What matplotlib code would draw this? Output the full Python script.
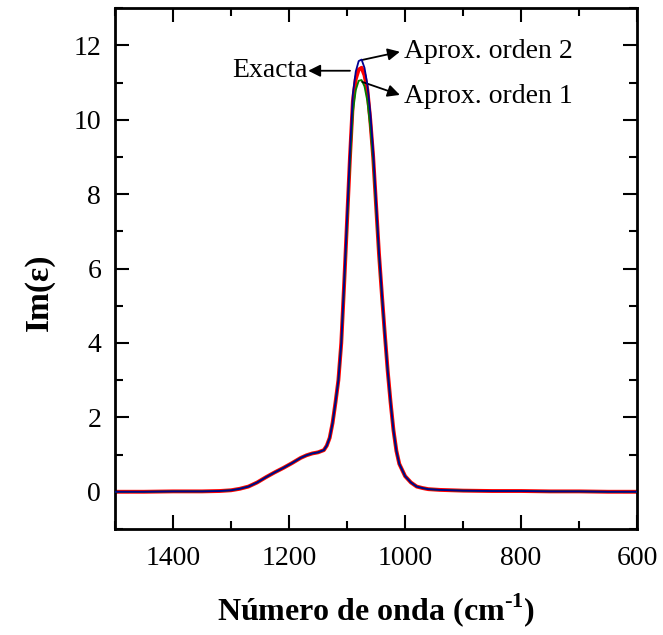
import matplotlib
matplotlib.use('Agg')
import matplotlib.pyplot as plt
from matplotlib.ticker import MultipleLocator

plt.rcParams['font.family'] = ['Liberation Serif', 'DejaVu Serif']
plt.rcParams['mathtext.fontset'] = 'custom'
plt.rcParams['mathtext.rm'] = 'Liberation Serif'
plt.rcParams['mathtext.bf'] = 'Liberation Serif:bold'

# Numero de onda (cm^-1)
numero_onda = [1500, 1450, 1400, 1350, 1320, 1300, 1285, 1270, 1255, 1240,
               1225, 1210, 1195, 1180, 1170, 1160, 1150, 1140, 1135, 1130,
               1125, 1120, 1115, 1110, 1105, 1100, 1095, 1090, 1085, 1080,
               1075, 1070, 1065, 1060, 1055, 1050, 1045, 1040, 1035, 1030,
               1025, 1020, 1015, 1010, 1000, 990, 980, 970, 960, 940,
               920, 900, 850, 800, 750, 700, 650, 600]

# Im(eps) exacta
im_exacta = [0.0, 0.0, 0.01, 0.01, 0.02, 0.04, 0.08, 0.14, 0.25, 0.39,
             0.52, 0.64, 0.77, 0.91, 0.98, 1.03, 1.06, 1.12, 1.24, 1.45,
             1.85, 2.4, 3.0, 4.0, 5.6, 7.3, 9.0, 10.5, 11.1, 11.35,
             11.4, 11.2, 10.8, 10.0, 9.0, 7.7, 6.4, 5.3, 4.25, 3.25,
             2.4, 1.65, 1.1, 0.75, 0.42, 0.25, 0.14, 0.1, 0.07, 0.05,
             0.04, 0.03, 0.02, 0.02, 0.01, 0.01, 0.0, 0.0]

# Aproximacion de orden 1
im_orden1 = [0.0, 0.0, 0.01, 0.01, 0.02, 0.04, 0.08, 0.14, 0.25, 0.39,
             0.52, 0.64, 0.77, 0.91, 0.98, 1.03, 1.06, 1.12, 1.24, 1.45,
             1.85, 2.4, 3.0, 4.0, 5.55, 7.2, 8.85, 10.2, 10.8, 11.05,
             11.07, 10.9, 10.5, 9.8, 8.9, 7.6, 6.35, 5.25, 4.25, 3.25,
             2.4, 1.65, 1.1, 0.75, 0.42, 0.25, 0.14, 0.1, 0.07, 0.05,
             0.04, 0.03, 0.02, 0.02, 0.01, 0.01, 0.0, 0.0]

# Aproximacion de orden 2
im_orden2 = [0.0, 0.0, 0.01, 0.01, 0.02, 0.04, 0.08, 0.14, 0.25, 0.39,
             0.52, 0.64, 0.77, 0.91, 0.98, 1.03, 1.06, 1.12, 1.24, 1.45,
             1.85, 2.4, 3.0, 4.0, 5.65, 7.4, 9.15, 10.7, 11.3, 11.58,
             11.62, 11.4, 10.95, 10.2, 9.15, 7.8, 6.45, 5.35, 4.25, 3.25,
             2.4, 1.65, 1.1, 0.75, 0.42, 0.25, 0.14, 0.1, 0.07, 0.05,
             0.04, 0.03, 0.02, 0.02, 0.01, 0.01, 0.0, 0.0]

fig = plt.figure(figsize=(6.63, 6.35), dpi=100)
ax = fig.add_axes([0.1735, 0.167, 0.7875, 0.820])

ax.plot(numero_onda, im_exacta, color='#ff0000', lw=2.8, zorder=2)
ax.plot(numero_onda, im_orden1, color='#008000', lw=1.3, zorder=3)
ax.plot(numero_onda, im_orden2, color='#000090', lw=1.3, zorder=4)

ax.set_xlim(1500, 600)
ax.set_ylim(-1, 13)
ax.xaxis.set_major_locator(MultipleLocator(200))
ax.xaxis.set_minor_locator(MultipleLocator(100))
ax.yaxis.set_major_locator(MultipleLocator(2))
ax.yaxis.set_minor_locator(MultipleLocator(1))

ax.tick_params(which='both', direction='in', top=True, right=True, width=1.5,
               labelsize=20)
ax.tick_params(which='major', length=10)
ax.tick_params(axis='x', which='major', pad=12)
ax.tick_params(axis='y', which='major', pad=10)
ax.tick_params(which='minor', length=5.5)
for s in ax.spines.values():
    s.set_linewidth(2)

ax.set_xlabel(r'Número de onda (cm$^{\mathbf{\text{-}1}}$)', fontsize=23,
              fontweight='bold')
ax.set_ylabel('Im(ε)', fontsize=24, fontweight='bold')
ax.xaxis.set_label_coords(0.5, -0.12)
ax.yaxis.set_label_coords(-0.115, 0.455)

# flechas de las etiquetas
flecha = dict(arrowstyle='-|>', color='black', lw=1.3, mutation_scale=18,
              shrinkA=0, shrinkB=0)
ax.annotate('', xy=(1167, 11.32), xytext=(1095, 11.32), arrowprops=flecha)
ax.text(1168, 11.32, 'Exacta', fontsize=20, ha='right', va='center')
ax.annotate('', xy=(1009, 11.83), xytext=(1074, 11.61), arrowprops=flecha)
ax.text(1002, 11.85, 'Aprox. orden 2', fontsize=20, ha='left', va='center')
ax.annotate('', xy=(1009, 10.67), xytext=(1074, 11.02), arrowprops=flecha)
ax.text(1002, 10.62, 'Aprox. orden 1', fontsize=20, ha='left', va='center')

plt.savefig('out.png', dpi=100)
